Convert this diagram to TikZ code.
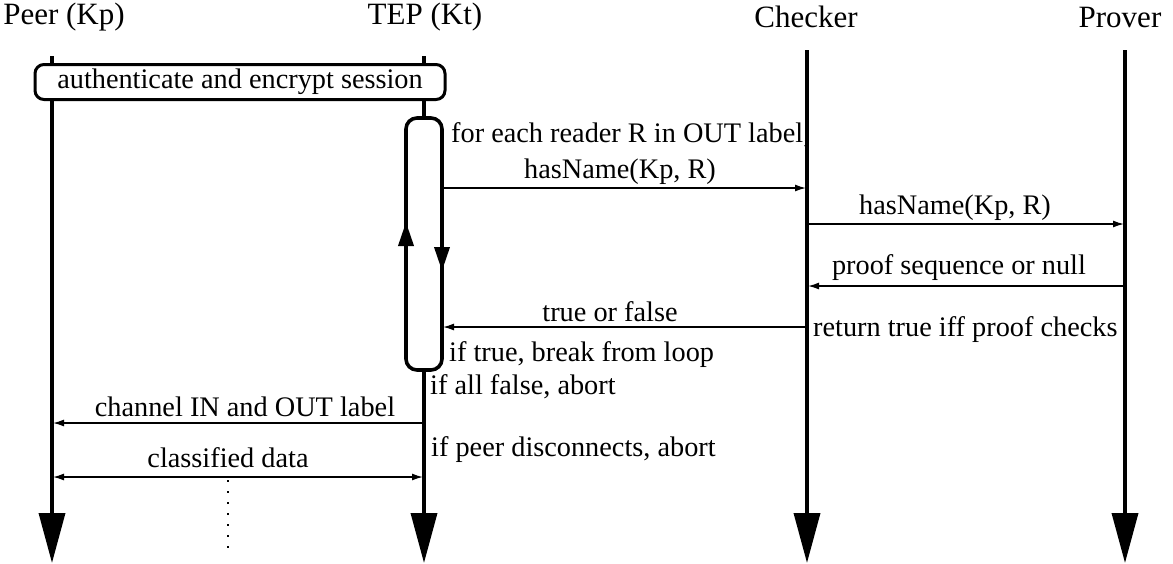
\documentclass[tikz,border=0pt]{standalone}
\usepackage{fontspec}
\setmainfont{Liberation Serif}
\usetikzlibrary{arrows.meta}
\begin{document}
\begin{tikzpicture}[x=1pt,y=-1pt,
  hdr/.style={font=\fontsize{31}{36}\selectfont, inner sep=0pt},
  txt/.style={font=\fontsize{28.3}{33}\selectfont, inner sep=0pt},
  life/.style={line width=3.6pt},
  lifeend/.style={line width=3.6pt, -{Triangle[length=50pt,width=26pt]}},
  msg/.style={line width=1.4pt, -{Latex[length=11pt,width=7pt]}},
  dmsg/.style={line width=1.4pt, {Latex[length=11pt,width=7pt]}-{Latex[length=11pt,width=7pt]}},
  sbox/.style={draw, line width=3pt, rounded corners=9pt, inner xsep=10pt, minimum height=35pt, font=\fontsize{28.3}{33}\selectfont},
  loopline/.style={line width=3.6pt, rounded corners=11pt},
  looptip/.style={line width=3.6pt, -{Triangle[length=24pt,width=15pt]}}
]
\useasboundingbox (0,0) rectangle (1173,563);
% headers
\node[hdr] (peer) at (64,17) {Peer (Kp)};
\node[hdr] (tep) at (425,17) {TEP (Kt)};
\node[hdr] (chk) at (806,17) {Checker};
\node[hdr] (prv) at (1120,17) {Prover};
% lifeline coordinates
\coordinate (pT) at (52,56);
\coordinate (tT) at (424,56);
\coordinate (cT) at (807,50);
\coordinate (vT) at (1125,50);
\coordinate (pB) at (52,563);
\coordinate (tB) at (424,563);
\coordinate (cB) at (807,563);
\coordinate (vB) at (1125,563);
% session box
\node[sbox, minimum width=410pt] (sess) at (240,82) {authenticate and encrypt session};
% lifelines
\draw[life] (pT) -- (sess.north -| pT);
\draw[life] (tT) -- (sess.north -| tT);
\draw[lifeend] (sess.south -| pT) -- (pB);
\draw[lifeend] (cT) -- (cB);
\draw[lifeend] (vT) -- (vB);
\draw[life] (sess.south -| tT) -- (424,118);
\draw[lifeend] (424,370) -- (tB);
% loop
\draw[loopline] (406,118) rectangle (442,370);
\draw[looptip] (406,260) -- (406,222);
\draw[looptip] (442,235) -- (442,271);
% message coordinates
\coordinate (m1s) at (443,188); \coordinate (m1e) at (806,188);
\coordinate (m2s) at (808,224); \coordinate (m2e) at (1124,224);
\coordinate (m3s) at (1124,286); \coordinate (m3e) at (808,286);
\coordinate (m4s) at (806,327); \coordinate (m4e) at (443,327);
\coordinate (m5s) at (424,423); \coordinate (m5e) at (53,423);
\coordinate (m6s) at (53,477); \coordinate (m6e) at (423,477);
\draw[msg] (m1s) -- (m1e);
\draw[msg] (m2s) -- (m2e);
\draw[msg] (m3s) -- (m3e);
\draw[msg] (m4s) -- (m4e);
\draw[msg] (m5s) -- (m5e);
\draw[dmsg] (m6s) -- (m6e);
% dotted continuation
\coordinate (dotS) at (228,480);
\coordinate (dotE) at (228,555);
\draw[line width=2pt, dash pattern=on 2pt off 9pt] (dotS) -- (dotE);
% labels
\node[txt, anchor=west] (l1) at (451,135) {for each reader R in OUT label,};
\node[txt] (l2) at (620,172) {hasName(Kp, R)};
\node[txt] (l3) at (955,208) {hasName(Kp, R)};
\node[txt] (l4) at (959,268) {proof sequence or null};
\node[txt] (l5) at (610,312) {true or false};
\node[txt, anchor=west] (l6) at (813,330) {return true iff proof checks};
\node[txt, anchor=west] (l7) at (449,355) {if true, break from loop};
\node[txt, anchor=west] (l8) at (430,387) {if all false, abort};
\node[txt] (l9) at (245,407) {channel IN and OUT label};
\node[txt, anchor=west] (l10) at (431,450) {if peer disconnects, abort};
\node[txt] (l11) at (228,458) {classified data};
\end{tikzpicture}
\end{document}
